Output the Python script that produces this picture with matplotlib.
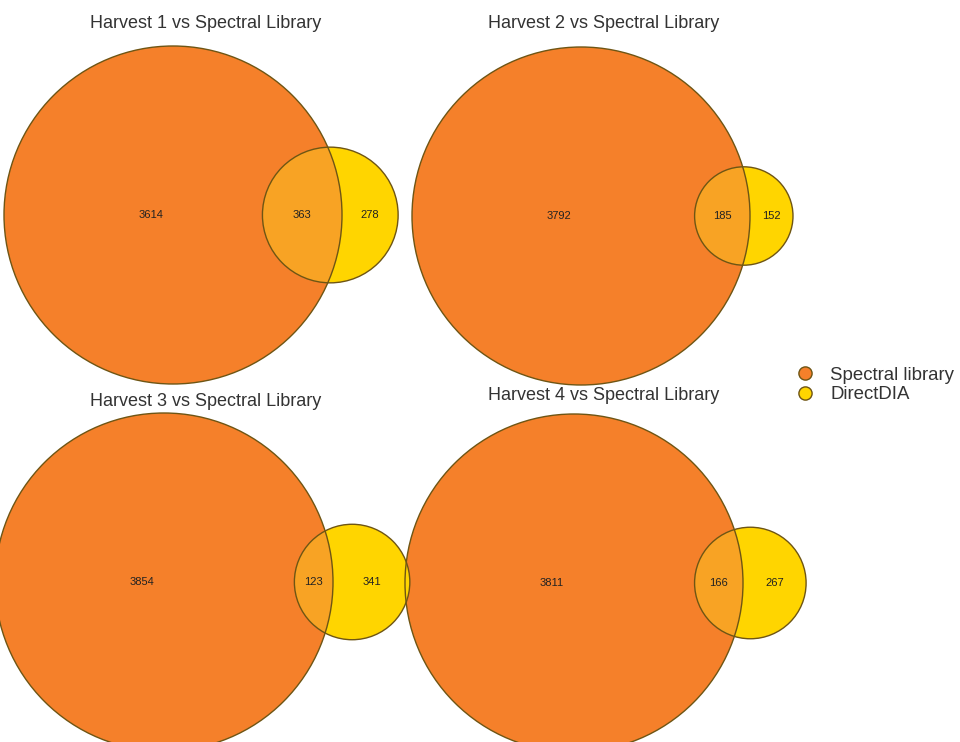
import numpy as np
import matplotlib
matplotlib.use("Agg")
import matplotlib.pyplot as plt
from matplotlib.patches import Circle
from matplotlib.lines import Line2D

plt.rcParams['font.family'] = ['Liberation Sans', 'DejaVu Sans']

# ---- data ----
titles = ["Harvest 1 vs Spectral Library", "Harvest 2 vs Spectral Library",
          "Harvest 3 vs Spectral Library", "Harvest 4 vs Spectral Library"]
library_only = [3614, 3792, 3854, 3811]
overlap = [363, 185, 123, 166]
direct_only = [278, 152, 341, 267]
legend_labels = ["Spectral library", "DirectDIA"]

# ---- style ----
C_LIB = "#F5802A"
C_DIA = "#FFD500"
C_OVL = "#F8A324"
C_EDGE = "#6E5514"

W, H = 960, 742
fig = plt.figure(figsize=(W / 100, H / 100), dpi=100)
ax = fig.add_axes([0, 0, 1, 1])
ax.set_xlim(0, W)
ax.set_ylim(H, 0)
ax.set_aspect('equal')
ax.axis('off')

# layout: big circle centers and title positions (pixels)
centers = [(173, 215), (581, 216), (164, 582), (574, 583)]
title_pos = [(206, 24), (604, 24), (206, 402), (604, 395)]
R_BIG = 169.0


def lens_area(r1, r2, d):
    if d >= r1 + r2:
        return 0.0
    if d <= abs(r1 - r2):
        return np.pi * min(r1, r2) ** 2
    a1 = r1 ** 2 * np.arccos((d ** 2 + r1 ** 2 - r2 ** 2) / (2 * d * r1))
    a2 = r2 ** 2 * np.arccos((d ** 2 + r2 ** 2 - r1 ** 2) / (2 * d * r2))
    a3 = 0.5 * np.sqrt((-d + r1 + r2) * (d + r1 - r2) * (d - r1 + r2) * (d + r1 + r2))
    return a1 + a2 - a3


for i in range(4):
    n_lib = library_only[i] + overlap[i]
    n_dia = direct_only[i] + overlap[i]
    k = R_BIG / np.sqrt(n_lib)
    r1 = R_BIG
    r2 = k * np.sqrt(n_dia)
    target = np.pi * k ** 2 * overlap[i]
    lo, hi = abs(r1 - r2), r1 + r2
    for _ in range(80):
        mid = 0.5 * (lo + hi)
        if lens_area(r1, r2, mid) > target:
            lo = mid
        else:
            hi = mid
    d = 0.5 * (lo + hi)
    cx, cy = centers[i]
    sx = cx + d

    big = Circle((cx, cy), r1, facecolor=C_LIB, edgecolor='none', zorder=1)
    ax.add_patch(big)
    ax.add_patch(Circle((sx, cy), r2, facecolor=C_DIA, edgecolor='none', zorder=2))
    ov = Circle((sx, cy), r2, facecolor=C_OVL, edgecolor='none', zorder=3)
    ax.add_patch(ov)
    ov.set_clip_path(big)
    ax.add_patch(Circle((cx, cy), r1, facecolor='none', edgecolor=C_EDGE, lw=1.0, zorder=4))
    ax.add_patch(Circle((sx, cy), r2, facecolor='none', edgecolor=C_EDGE, lw=1.0, zorder=4))

    big_right = cx + r1
    sm_left = sx - r2
    sm_right = sx + r2
    fs = 8
    ax.text(cx - 0.13 * r1, cy, str(library_only[i]), ha='center', va='center',
            fontsize=fs, color='#222222', zorder=5)
    ax.text((sm_left + big_right) / 2, cy, str(overlap[i]), ha='center', va='center',
            fontsize=fs, color='#222222', zorder=5)
    ax.text((big_right + sm_right) / 2, cy, str(direct_only[i]), ha='center', va='center',
            fontsize=fs, color='#222222', zorder=5)

    tx, ty = title_pos[i]
    ax.text(tx, ty, titles[i], ha='center', va='center', fontsize=13, color='#333333', zorder=6)

handles = [Line2D([], [], marker='o', linestyle='none', markersize=9.5,
                  markerfacecolor=C_LIB, markeredgecolor=C_EDGE, markeredgewidth=1.0),
           Line2D([], [], marker='o', linestyle='none', markersize=9.5,
                  markerfacecolor=C_DIA, markeredgecolor=C_EDGE, markeredgewidth=1.0)]
fig.legend(handles, legend_labels, loc='center left', bbox_to_anchor=(796 / W, 1 - 385 / H),
           frameon=False, fontsize=13.4, handletextpad=0.85, labelspacing=0.12,
           handlelength=1.0, borderaxespad=0, borderpad=0, labelcolor='#333333')

fig.savefig("out.png", dpi=100)
